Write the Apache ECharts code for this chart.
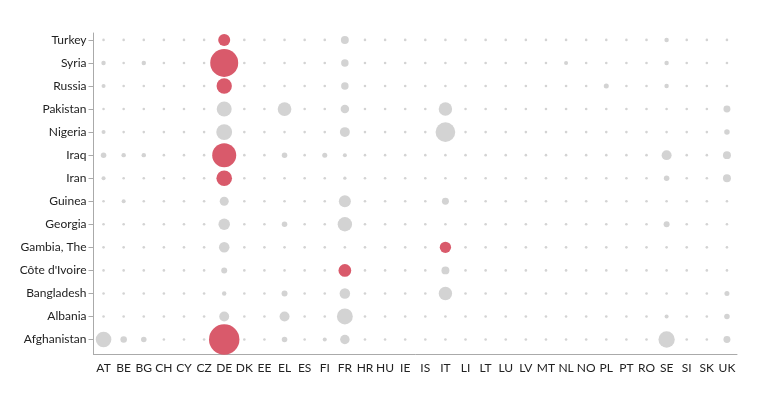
<!DOCTYPE html>
<html><head><meta charset="utf-8">
<script src="https://cdn.jsdelivr.net/npm/echarts@6/dist/echarts.min.js"></script>
<style>html,body{margin:0;padding:0;background:#fff}#c{width:774px;height:393px}</style>
</head><body><div id="c"></div>
<script>
const xCodes = ["AT","BE","BG","CH","CY","CZ","DE","DK","EE","EL","ES","FI","FR","HR","HU","IE","IS","IT","LI","LT","LU","LV","MT","NL","NO","PL","PT","RO","SE","SI","SK","UK"];
const yCountries = ["Afghanistan","Albania","Bangladesh","Côte d'Ivoire","Gambia, The","Georgia","Guinea","Iran","Iraq","Nigeria","Pakistan","Russia","Syria","Turkey"];
// [code, country, value] for non-negligible cells
const bubbles = [
  ["DE","Turkey",16],["FR","Turkey",7],["SE","Turkey",2.2],
  ["AT","Syria",2.2],["BG","Syria",2.2],["DE","Syria",87],["FR","Syria",6.2],["NL","Syria",1.8],["SE","Syria",2.2],
  ["AT","Russia",1.8],["DE","Russia",26],["FR","Russia",6.2],["PL","Russia",2.8],["SE","Russia",2.2],
  ["DE","Pakistan",25],["EL","Pakistan",21],["FR","Pakistan",8],["IT","Pakistan",20],["UK","Pakistan",5.4],
  ["AT","Nigeria",1.8],["DE","Nigeria",28],["FR","Nigeria",11],["IT","Nigeria",43],["UK","Nigeria",3.4],
  ["AT","Iraq",3.4],["BE","Iraq",2.2],["BG","Iraq",2.2],["DE","Iraq",64],["EL","Iraq",3.4],["FI","Iraq",2.8],["FR","Iraq",1.8],["SE","Iraq",11],["UK","Iraq",7],
  ["AT","Iran",1.8],["DE","Iran",27],["FR","Iran",1.2],["SE","Iran",3.4],["UK","Iran",7],
  ["BE","Guinea",1.8],["DE","Guinea",9],["FR","Guinea",16],["IT","Guinea",5.4],
  ["DE","Georgia",14.7],["EL","Georgia",3.4],["FR","Georgia",23],["SE","Georgia",4],
  ["DE","Gambia, The",12.3],["IT","Gambia, The",14.2],
  ["DE","Côte d'Ivoire",4],["FR","Côte d'Ivoire",18],["IT","Côte d'Ivoire",7],
  ["DE","Bangladesh",2.2],["EL","Bangladesh",4],["FR","Bangladesh",12.3],["IT","Bangladesh",20],["UK","Bangladesh",2.8],
  ["DE","Albania",11],["EL","Albania",11],["FR","Albania",28],["SE","Albania",1.8],["UK","Albania",3.4],
  ["AT","Afghanistan",27],["BE","Afghanistan",4.7],["BG","Afghanistan",3.4],["DE","Afghanistan",103],["EL","Afghanistan",3.4],["FI","Afghanistan",1.8],["FR","Afghanistan",10],["SE","Afghanistan",29.5],["UK","Afghanistan",5.4]
];
const highlighted = [["DE","Turkey"],["DE","Syria"],["DE","Russia"],["DE","Iraq"],["DE","Iran"],["DE","Afghanistan"],["FR","Côte d'Ivoire"],["IT","Gambia, The"]];

const lookup = {};
bubbles.forEach(b => { lookup[b[0] + "|" + b[1]] = b[2]; });
const hi = new Set(highlighted.map(h => h[0] + "|" + h[1]));
const grayData = [], redData = [];
yCountries.forEach((c, yi) => {
  xCodes.forEach((x, xi) => {
    const v = lookup[x + "|" + c] || 0;
    const item = [xi, yi, v];
    if (hi.has(x + "|" + c)) redData.push(item); else grayData.push(item);
  });
});
const sizeFn = d => Math.max(2.6, 3 * Math.sqrt(d[2]));
const font = "Lato, sans-serif";
const chart = echarts.init(document.getElementById('c'), null, {renderer: 'canvas'});
chart.setOption({
  animation: false,
  grid: {left: 93.5, right: 37, top: 33, bottom: 38.5, containLabel: false},
  xAxis: {
    type: 'category', data: xCodes, boundaryGap: true,
    axisLine: {onZero: false, lineStyle: {color: '#aaaaaa'}},
    axisTick: {alignWithLabel: true, length: 4, lineStyle: {color: '#aaaaaa'}},
    axisLabel: {color: '#222', fontFamily: font, fontSize: 12, interval: 0, margin: 8},
    splitLine: {show: false}
  },
  yAxis: {
    type: 'value', min: -0.65, max: 13.3,
    axisLine: {show: true, lineStyle: {color: '#aaaaaa'}},
    axisTick: {show: true, length: 5, customValues: yCountries.map((_, i) => i), lineStyle: {color: '#aaaaaa'}},
    axisLabel: {color: '#222', fontFamily: font, fontSize: 12, margin: 7,
      customValues: yCountries.map((_, i) => i),
      formatter: v => yCountries[Math.round(v)]},
    splitLine: {show: false}
  },
  series: [
    {type: 'scatter', data: grayData, symbolSize: sizeFn, itemStyle: {color: '#d3d3d3', opacity: 1}, z: 2},
    {type: 'scatter', data: redData, symbolSize: sizeFn, itemStyle: {color: '#d95a6b', opacity: 1}, z: 3}
  ]
});
</script></body></html>
